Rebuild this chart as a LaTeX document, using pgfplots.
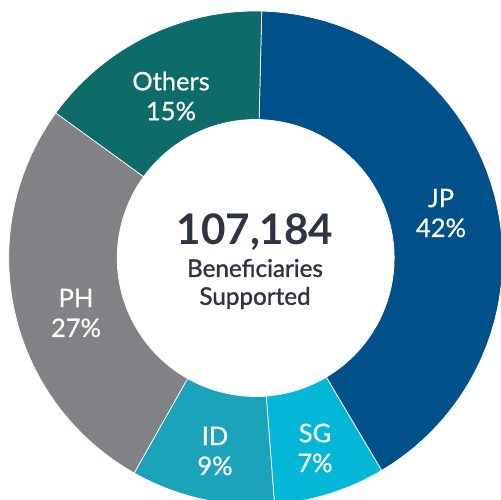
\documentclass[border=0pt]{standalone}
\usepackage{pgfplots}
\pgfplotsset{compat=1.18}
\usepackage{pgfplotstable}
\usepackage{fontspec}
\setmainfont{Lato}
\newfontfamily\medfont[FakeBold=0.6]{Lato}
\newfontfamily\semifont[FakeBold=1.3]{Lato}
\definecolor{cJP}{HTML}{00518A}
\definecolor{cSG}{HTML}{02B8D6}
\definecolor{cID}{HTML}{1BA3BC}
\definecolor{cPH}{HTML}{808285}
\definecolor{cOT}{HTML}{0D6B6A}
\definecolor{ctext}{HTML}{2E3440}

% shares as drawn (label shows rounded percent)
\pgfplotstableread{
name   share col
JP     41.1  cJP
SG     7.3   cSG
ID     9.4   cID
PH     26.8  cPH
Others 15.4  cOT
}\slices

\begin{document}
\begin{tikzpicture}
\useasboundingbox (0,0) rectangle (10.02cm,10cm);
\begin{axis}[at={(0,0)},anchor=south west, scale only axis,
  width=10.02cm, height=10cm,
  xmin=0,xmax=501,ymin=0,ymax=500, hide axis, clip=true]
\def\cx{255.7}\def\cy{242}\def\Rout{247}\def\Rin{138.5}
\pgfmathsetmacro{\cum}{88.6}
\pgfplotsforeachungrouped \i in {0,...,4}{%
  \pgfplotstablegetelem{\i}{share}\of\slices \let\sh\pgfplotsretval
  \pgfplotstablegetelem{\i}{col}\of\slices \let\cc\pgfplotsretval
  \pgfmathsetmacro{\angA}{\cum}%
  \pgfmathsetmacro{\angB}{\cum-3.6*\sh}%
  \let\cum\angB
  \edef\doplot{\noexpand\addplot[fill=\cc, draw=white, line width=0.4pt, line join=round,
     samples at={0,...,102}, variable=\noexpand\t]
    ({\cx+(or(\noexpand\t<=50,\noexpand\t>=102)?\Rout:\Rin)*cos((\noexpand\t<=50)?(\angA+(\angB-\angA)*\noexpand\t/50):(\angB-(\angB-\angA)*min(\noexpand\t-51,50)/50))},
     {\cy+(or(\noexpand\t<=50,\noexpand\t>=102)?\Rout:\Rin)*sin((\noexpand\t<=50)?(\angA+(\angB-\angA)*\noexpand\t/50):(\angB-(\angB-\angA)*min(\noexpand\t-51,50)/50))});}%
  \doplot
}
\tikzset{lbl/.style={align=center, text=white, font=\medfont\fontsize{14.5}{17}\selectfont}}
\node[lbl] at (axis cs:441,287) {JP\\42\%};
\node[lbl] at (axis cs:315,52) {SG\\7\%};
\node[lbl] at (axis cs:215,49) {ID\\9\%};
\node[lbl] at (axis cs:76,187) {PH\\27\%};
\node[lbl] at (axis cs:171,404) {Others\\15\%};
\node[text=ctext, font=\bfseries\fontsize{24}{28}\selectfont] at (axis cs:255,268) {107,184};
\node[text=ctext, align=center, font=\semifont\fontsize{13.8}{15.9}\selectfont] at (axis cs:255,216) {Beneficiaries\\Supported};
\end{axis}
\end{tikzpicture}
\end{document}
